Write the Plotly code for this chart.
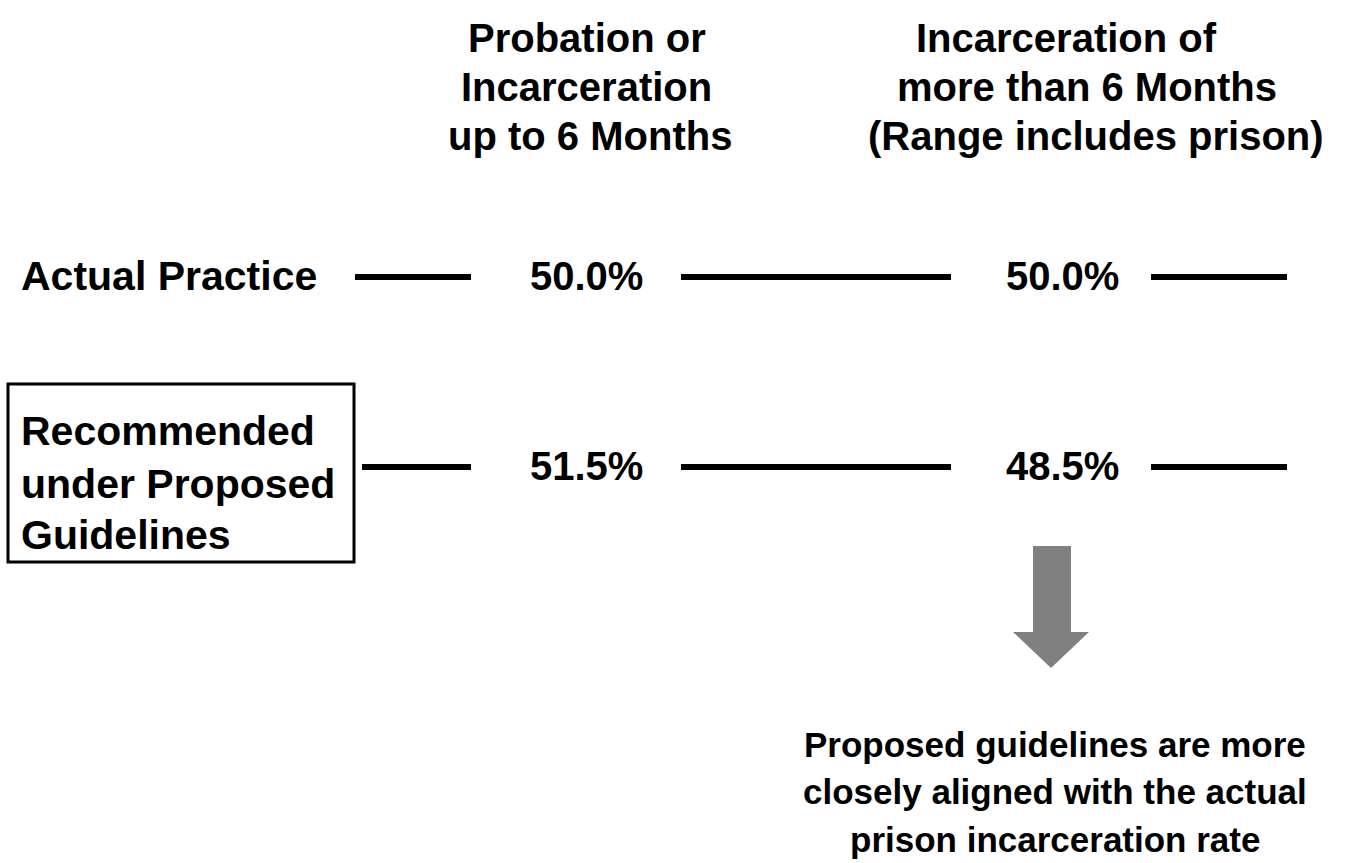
import plotly.graph_objects as go

# ---- data ----
col1_header = ["Probation or", "Incarceration", "up to 6 Months"]
col2_header = ["Incarceration of", "more than 6 Months", "(Range includes prison)"]
row_labels = ["Actual Practice", "Recommended<br>under Proposed<br>Guidelines"]
short_term_pct = [50.0, 51.5]     # probation or incarceration up to 6 months
long_term_pct = [50.0, 48.5]      # incarceration of more than 6 months
conclusion = ["Proposed guidelines are more",
              "closely aligned with the actual",
              "prison incarceration rate"]

W, H = 1359, 863
FONT = "Arial, Liberation Sans, sans-serif"

fig = go.Figure()
fig.update_layout(
    width=W, height=H, autosize=False,
    margin=dict(l=0, r=0, t=0, b=0),
    paper_bgcolor="white", plot_bgcolor="white",
    xaxis=dict(range=[0, W], visible=False, fixedrange=True),
    yaxis=dict(range=[H, 0], visible=False, fixedrange=True),
    showlegend=False,
)

def txt(x, y, s, size=40, xanchor="center"):
    fig.add_annotation(x=x, y=y, text=s, showarrow=False, xanchor=xanchor,
                       yanchor="middle", align="left" if xanchor == "left" else "center",
                       font=dict(family=FONT, size=size, color="black", weight="bold"))

# headers (one annotation per line)
col1_x = [587, 586, 590]
col2_x = [1066, 1087, 1096]
header_y = [38, 87, 136]
for s, x, y in zip(col1_header, col1_x, header_y):
    txt(x, y, s)
for s, x, y in zip(col2_header, col2_x, header_y):
    txt(x, y, s)

# rows
row_y = [277, 467]
txt(19, row_y[0] - 1, row_labels[0], size=41, xanchor="left")
for i, line in enumerate(row_labels[1].split("<br>")):
    txt(19, [431, 484, 535][i], line, size=41, xanchor="left")

for i in range(2):
    txt(586, row_y[i] - 1, f"{short_term_pct[i]:.1f}%")
    txt(1062, row_y[i] - 1, f"{long_term_pct[i]:.1f}%")

# connector lines
seg_x = [[(355, 471), (681, 951), (1151, 1287)],
         [(362, 471), (681, 951), (1151, 1287)]]
for i, y in enumerate(row_y):
    for x0, x1 in seg_x[i]:
        fig.add_shape(type="line", x0=x0, x1=x1, y0=y, y1=y, xref="x", yref="y",
                      line=dict(color="black", width=6))

# box around recommended label
fig.add_shape(type="rect", x0=8, x1=354, y0=384, y1=562, xref="x", yref="y",
              line=dict(color="black", width=3), fillcolor="rgba(0,0,0,0)")

# down arrow
fig.add_shape(type="path", xref="x", yref="y",
              path="M 1033 546 L 1071 546 L 1071 632 L 1089 632 L 1051 668 L 1013 632 L 1033 632 Z",
              fillcolor="#808080", line=dict(color="#808080", width=0))

# conclusion text
for s, y in zip(conclusion, [744, 791, 839]):
    txt(1055, y, s, size=35)

fig.write_html("out.html", config={"displayModeBar": False},
               post_script="document.body.style.margin='0';")
